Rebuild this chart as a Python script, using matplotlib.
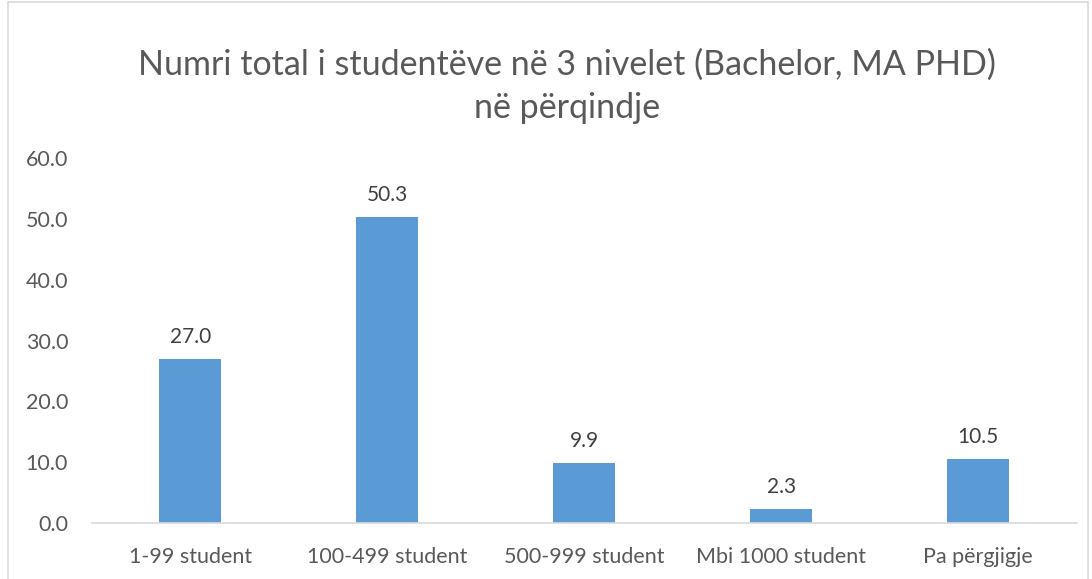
import matplotlib
matplotlib.use('Agg')
import matplotlib.pyplot as plt
from matplotlib.patches import Rectangle

plt.rcParams['font.family'] = ['Lato', 'DejaVu Sans']

# data
categories = ['1-99 student', '100-499 student', '500-999 student', 'Mbi 1000 student', 'Pa përgjigje']
values = [27.0, 50.3, 9.9, 2.3, 10.5]
y_ticks = [0, 10, 20, 30, 40, 50, 60]
title_lines = ['Numri total i studentëve në 3 nivelet (Bachelor, MA PHD)', 'në përqindje']

fig = plt.figure(figsize=(10.92, 5.79), dpi=100)
ax = fig.add_axes([0.084, 0.0967, 0.902, 0.630])

bars = ax.bar(range(len(categories)), values, width=0.315, color='#5b9bd5')
for b, v in zip(bars, values):
    ax.text(b.get_x() + b.get_width() / 2, v + 2.0, f'{v:.1f}', ha='center', va='bottom',
            fontsize=15, color='#404040')

ax.set_xlim(-0.5, len(categories) - 0.5)
ax.set_ylim(0, 60)
ax.set_yticks(y_ticks)
ax.set_yticklabels([f'{t:.1f}' for t in y_ticks])
ax.set_xticks(range(len(categories)))
ax.set_xticklabels(categories)
ax.tick_params(axis='both', length=0, labelsize=15.5, colors='#595959')
ax.tick_params(axis='x', pad=17)
ax.tick_params(axis='y', pad=17)
for s in ['top', 'right', 'left']:
    ax.spines[s].set_visible(False)
ax.spines['bottom'].set_color('#d9d9d9')
ax.spines['bottom'].set_linewidth(1.2)

# title, two lines placed by baseline
fig.text(567 / 1092, 1 - 75 / 579, title_lines[0], ha='center', va='baseline',
         fontsize=24.5, color='#595959')
fig.text(567 / 1092, 1 - 118 / 579, title_lines[1], ha='center', va='baseline',
         fontsize=24.5, color='#595959')

# chart border
fig.patches.append(Rectangle((8 / 1092, -0.1), 1080 / 1092, 1.1 - 2 / 579, transform=fig.transFigure,
                             fill=False, edgecolor='#d9d9d9', linewidth=1.2))

fig.savefig('out.png', dpi=100)
